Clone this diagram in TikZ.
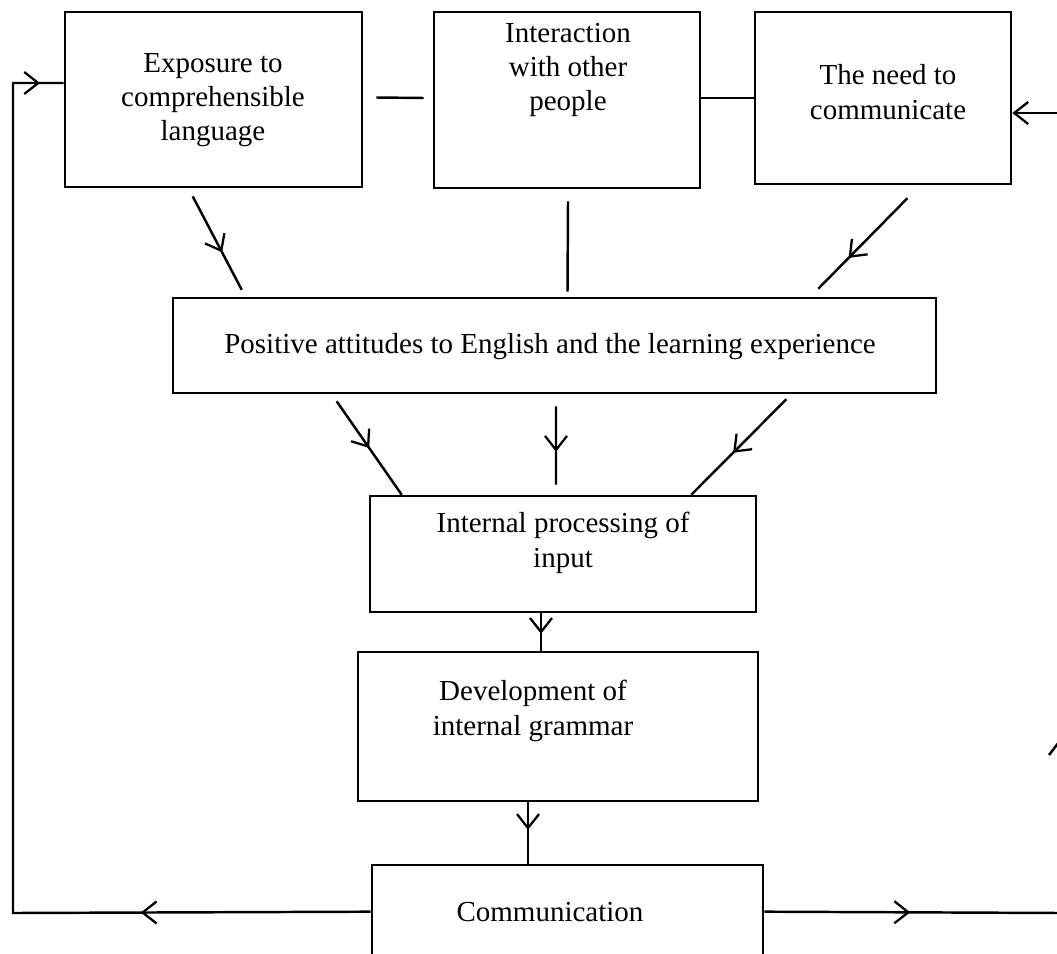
\documentclass[tikz,border=0pt]{standalone}
\usepackage{fontspec}
\setmainfont{Liberation Serif}
\usetikzlibrary{arrows.meta,decorations.markings,fit}

\tikzset{
  barb/.tip={Straight Barb[length=2.8mm,width=4.4mm,line width=1.3pt]},
  box/.style={draw, line width=1.5pt, inner sep=0pt},
  txt/.style={align=center, inner sep=0pt,
    font=\fontsize{16.5}{19.5}\selectfont},
  conn/.style={line width=1.4pt},
  mid/.style={postaction={decorate},
    decoration={markings, mark=at position #1 with {\arrow{barb}}}},
}

\begin{document}
\begin{tikzpicture}[x=0.02cm, y=-0.02cm]
\useasboundingbox (0,0) rectangle (1057,953);
\clip (0,0) rectangle (1057,953);

% boxes
\node[box, fit={(65,12) (362,187)}] (expo) {};
\node[box, fit={(434,12) (700,188)}] (inter) {};
\node[box, fit={(755,12) (1011,184)}] (need) {};
\node[box, fit={(173,298) (936,393)}] (att) {};
\node[box, fit={(370,496) (756,612)}] (proc) {};
\node[box, fit={(358,652) (758,801)}] (dev) {};
\node[box, fit={(372,865) (763,1000)}] (comm) {};

% texts
\node[txt] (expoT) at (213,100) {Exposure to\\comprehensible\\language};
\node[txt] (interT) at (568,70) {Interaction\\with other\\people};
\node[txt] (needT) at (888,92) {The need to\\communicate};
\node[txt] (attT) at (550,347) {Positive attitudes to English and the learning experience};
\node[txt] (procT) at (563,543) {Internal processing of\\input};
\node[txt] (devT) at (533,711) {Development of\\internal grammar};
\node[txt] (commT) at (550,912) {Communication};

% links along the top row
\draw[conn] ([shift={(13,-2)}]expo.east) -- ([shift={(-9,-2)}]inter.west);
\draw[conn] ([yshift=0.04cm]inter.east) -- ([yshift=0.04cm]inter.east -| need.west);

% into the attitudes box
\draw[conn, mid=0.6] ([shift={(129,8)}]expo.south west) -- ([shift={(70,-7)}]att.north west);
\draw[conn] ([shift={(1,12)}]inter.south) -- ([shift={(13,-5)}]att.north);
\draw[conn, mid=0.66] ([shift={(-105,13)}]need.south east) -- ([shift={(-119,-8)}]att.north east);

% into internal processing
\draw[conn, mid=0.5] ([shift={(165,7)}]att.south west) -- ([shift={(33,0)}]proc.north west);
\draw[conn, mid=0.58] ([shift={(1.5,12)}]att.south) -- ([shift={(-7,-10)}]proc.north);
\draw[conn, mid=0.56] ([shift={(-151,5)}]att.south east) -- ([shift={(-66,0)}]proc.north east);

% down the column
\draw[conn, mid=0.55] ([xshift=-0.44cm]proc.south) -- ([xshift=-0.44cm]proc.south |- dev.north);
\draw[conn, mid=0.45] ([xshift=-0.6cm]dev.south) -- ([xshift=-0.6cm]dev.south |- comm.north);

% feedback loops
\coordinate (fbL) at (13,913);
\coordinate (fbT) at (13,83);
\coordinate (fbR) at (1062,913);
\coordinate (inR) at (1062,113);
\draw[conn, line join=miter, postaction={decorate}, decoration={markings,
    mark=at position 4.6cm with {\arrow{barb}},
    mark=at position 24.3cm with {\arrow{barb}}}]
  ([yshift=-0.96cm]comm.north west) -- (fbL) -- (fbT) -- (fbT -| expo.west);
\draw[conn, mid=0.49] ([yshift=-0.96cm]comm.north east) -- (fbR);
\draw[conn, -{barb}] (inR) -- (inR -| need.east);

% stroke entering from the right margin
\coordinate (edgeA) at (1049,755);
\coordinate (edgeB) at (1062,738);
\draw[conn] (edgeA) -- (edgeB);
\end{tikzpicture}
\end{document}
